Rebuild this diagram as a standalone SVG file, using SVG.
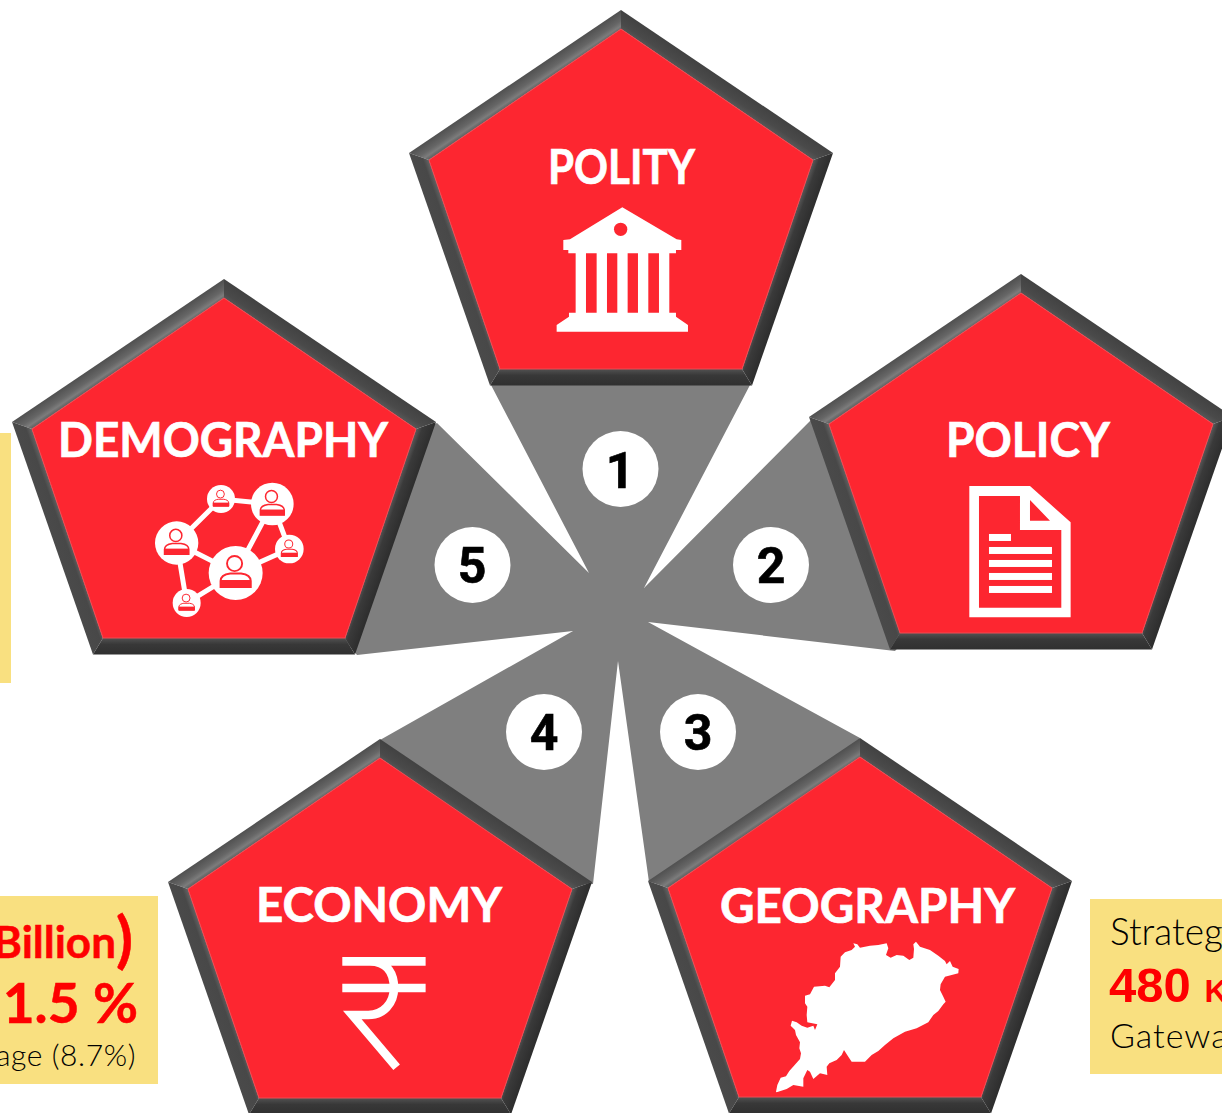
<svg xmlns="http://www.w3.org/2000/svg" xmlns:xlink="http://www.w3.org/1999/xlink" width="1222" height="1113" viewBox="0 0 1222 1113">
<style>
.lbl{font-family:"Lato","Liberation Sans",sans-serif;font-weight:700;font-size:48px;fill:#fff;stroke:#fff;stroke-width:.7px}
.num{font-family:"Roboto","Liberation Sans",sans-serif;font-weight:700;font-size:50px;fill:#000;text-anchor:middle;stroke:#000;stroke-width:.6px}
.disc{fill:#fff}
.box{fill:#f9e080}
.red{font-family:"Lato","Liberation Sans",sans-serif;font-weight:700;fill:#fe0000;stroke:#fe0000;stroke-width:.5px}
.blk{font-family:"Lato","Liberation Sans",sans-serif;font-weight:300;fill:#000}
.w{fill:#fff}
.line{stroke:#fff;stroke-width:15;fill:none}
</style>
<defs>
<linearGradient id="gTL" gradientUnits="userSpaceOnUse" x1="-106" y1="71.5" x2="-97.2" y2="84.6"><stop offset="0" stop-color="#505050"/><stop offset=".55" stop-color="#666"/><stop offset=".82" stop-color="#7c7c7c"/><stop offset="1" stop-color="#666"/></linearGradient>
<linearGradient id="gTR" gradientUnits="userSpaceOnUse" x1="106" y1="71.5" x2="97.2" y2="84.6"><stop offset="0" stop-color="#424242"/><stop offset=".7" stop-color="#4a4a4a"/><stop offset="1" stop-color="#555"/></linearGradient>
<linearGradient id="gR" gradientUnits="userSpaceOnUse" x1="171" y1="259" x2="155.4" y2="253.5"><stop offset="0" stop-color="#2e2e2e"/><stop offset=".65" stop-color="#3a3a3a"/><stop offset="1" stop-color="#5c5c5c"/></linearGradient>
<linearGradient id="gL" gradientUnits="userSpaceOnUse" x1="-171" y1="259" x2="-155.4" y2="253.5"><stop offset="0" stop-color="#4a4a4a"/><stop offset=".65" stop-color="#484848"/><stop offset="1" stop-color="#666"/></linearGradient>
<linearGradient id="gB" gradientUnits="userSpaceOnUse" x1="0" y1="375" x2="0" y2="359"><stop offset="0" stop-color="#303030"/><stop offset=".6" stop-color="#383838"/><stop offset="1" stop-color="#525252"/></linearGradient>
<g id="pent">
<polygon fill="url(#gTL)" points="-212,143 0,0 0,19 -192,150"/>
<polygon fill="url(#gTR)" points="212,143 0,0 0,19 192,150"/>
<polygon fill="url(#gR)" points="212,143 131,375.500 121,359 192,150"/>
<polygon fill="url(#gL)" points="-212,143 -131,375.500 -121,359 -192,150"/>
<polygon fill="url(#gB)" points="-131,375.500 131,375.500 121,359 -121,359"/>
<polygon fill="#fd2630" stroke="#ee4a52" stroke-width="1" points="0,19 192,150 121,359 -121,359 -192,150"/>
</g>
<g id="person">
<circle cx="-4" cy="-35" r="28" fill="#fff" stroke="#fd2630" stroke-width="7"/>
<path fill="#fff" stroke="#fd2630" stroke-width="7" d="M-56,30 C-56,10 -35,4 -20,2 H20 C35,4 56,10 56,30 V52 H-56Z"/>
<rect x="-57" y="26" width="114" height="27" fill="#fd2630"/>
</g>
</defs>

<g id="connectors">
<polygon fill="#7f7f7f" points="491,385 500,370 740,370 750,385 644,588 811,420 830,430 905,640 895,651 648,622 860,738 840,775 670,885 649,882 618,661 593,884 570,885 400,775 380,740 573,631 357,655 345,640 420,430 437,423 589,573"/>
</g>

<g id="box-left"><rect class="box" x="0" y="433" width="11" height="250"/></g>
<g id="box-economy">
<rect class="box" x="0" y="896" width="158" height="188"/>
<text class="red" x="133" y="958" font-size="44" text-anchor="end">Billion<tspan font-size="62" dy="3">)</tspan></text>
<text class="red" x="138" y="1023" font-size="55" text-anchor="end">1.5 %</text>
<text class="blk" x="136" y="1066" font-size="30" text-anchor="end" letter-spacing=".6">age (8.7%)</text>
</g>
<g id="box-geography">
<rect class="box" x="1090" y="899" width="132" height="175"/>
<text class="blk" x="1110" y="945" font-size="37">Strateg</text>
<text x="1109" y="1002" font-size="49" font-weight="700" font-family="Liberation Sans,sans-serif" fill="#fe0000">480 <tspan font-size="32">K</tspan></text>
<text class="blk" x="1110" y="1048" font-size="34" letter-spacing="1">Gatewa</text>
</g>

<g id="node-polity">
<use xlink:href="#pent" href="#pent" x="621" y="10"/>
<text class="lbl" x="548" y="184" textLength="147" lengthAdjust="spacingAndGlyphs">POLITY</text>
<g transform="translate(400 0) scale(.3333)">
<path class="w" fill-rule="evenodd" d="M667,622 L830,718 L844,720 V750 H828 V760 H808 V938 H828 V950 L864,975 V995 H470 V975 L507,950 V938 H527 V760 H505 V750 H490 V720 L510,718Z M558,760 V938 H590 V760Z M621,760 V938 H652 V760Z M683,760 V938 H714 V760Z M745,760 V938 H777 V760Z"/>
<circle cx="662" cy="688" r="20" fill="#fd2630"/>
</g>
</g>

<g id="node-policy">
<use xlink:href="#pent" href="#pent" x="1021" y="274"/>
<text class="lbl" x="946" y="457" textLength="164" lengthAdjust="spacingAndGlyphs">POLICY</text>
<g transform="translate(800 270) scale(.3333)">
<path class="w" fill-rule="evenodd" d="M508,648 H690 L812,757 V1042 H508Z M537,678 V1013 H784 V780 H660 V678Z M690,690 V752 H750Z"/>
<rect class="w" x="567" y="792" width="66" height="21"/>
<rect class="w" x="567" y="831" width="189" height="21"/>
<rect class="w" x="567" y="870" width="189" height="21"/>
<rect class="w" x="567" y="909" width="189" height="21"/>
<rect class="w" x="567" y="948" width="189" height="21"/>
</g>
</g>

<g id="node-geography">
<use xlink:href="#pent" href="#pent" x="860" y="738"/>
<text class="lbl" x="720" y="923" textLength="295" lengthAdjust="spacingAndGlyphs">GEOGRAPHY</text>
<path class="w" transform="translate(770 935) scale(.3333)" d="M18,470 L22,450 L32,428 L48,424 L58,408 L72,392 L90,372 L93,355 L88,340 L90,322 L78,300 L75,285 L62,272 L66,257 L80,262 L95,272 L112,278 L130,272 L135,285 L142,268 L112,262 L110,240 L112,215 L105,205 L105,182 L120,178 L132,155 L165,152 L178,157 L195,135 L195,115 L210,95 L212,65 L225,52 L245,45 L255,35 L250,25 L262,28 L270,38 L300,32 L325,30 L350,25 L355,40 L348,60 L362,68 L380,60 L400,62 L418,75 L430,68 L432,42 L430,28 L438,20 L450,35 L480,45 L505,62 L525,78 L530,88 L540,78 L548,95 L566,102 L565,115 L545,120 L525,125 L512,148 L510,165 L520,185 L527,200 L520,208 L505,228 L490,240 L475,262 L440,280 L405,290 L370,310 L345,330 L325,348 L305,360 L285,380 L245,380 L235,365 L222,345 L215,360 L200,375 L178,385 L170,395 L172,420 L150,415 L130,432 L120,410 L112,405 L100,430 L100,455 L70,450 L50,462 L20,472Z"/>
</g>

<g id="node-economy">
<use xlink:href="#pent" href="#pent" x="380" y="739"/>
<text class="lbl" x="256" y="922" textLength="246" lengthAdjust="spacingAndGlyphs">ECONOMY</text>
<path transform="translate(0 860) scale(.3333)" fill="none" stroke="#fff" stroke-width="26" d="M1027,304 H1277 M1027,384 H1277 M1110,304 C1165,304 1182,345 1182,384 C1182,430 1150,465 1105,465 H1057 L1190,622"/>
</g>

<g id="node-demography">
<use xlink:href="#pent" href="#pent" x="224" y="279"/>
<text class="lbl" x="58" y="457" textLength="330" lengthAdjust="spacingAndGlyphs">DEMOGRAPHY</text>
<g transform="translate(150 478) scale(.3333)">
<path class="line" d="M80,195 L213,63 L367,78 L257,285 L80,195 L110,375 L257,285 L418,213 L367,78"/>
<circle class="w" cx="213" cy="63" r="42"/><use xlink:href="#person" href="#person" transform="translate(213 63) scale(.42)"/>
<circle class="w" cx="367" cy="78" r="64"/><use xlink:href="#person" href="#person" transform="translate(367 78) scale(.64)"/>
<circle class="w" cx="80" cy="195" r="65"/><use xlink:href="#person" href="#person" transform="translate(80 195) scale(.65)"/>
<circle class="w" cx="257" cy="285" r="81"/><use xlink:href="#person" href="#person" transform="translate(257 285) scale(.81)"/>
<circle class="w" cx="418" cy="213" r="43"/><use xlink:href="#person" href="#person" transform="translate(418 213) scale(.43)"/>
<circle class="w" cx="110" cy="375" r="42"/><use xlink:href="#person" href="#person" transform="translate(110 375) scale(.42)"/>
</g>
</g>

<g id="badge-1"><circle class="disc" cx="620.500" cy="469" r="38"/><text class="num" x="620" y="488">1</text></g>
<g id="badge-2"><circle class="disc" cx="771" cy="565" r="38"/><text class="num" x="771" y="583">2</text></g>
<g id="badge-3"><circle class="disc" cx="698" cy="732" r="38"/><text class="num" x="698" y="750">3</text></g>
<g id="badge-4"><circle class="disc" cx="544" cy="732" r="38"/><text class="num" x="544" y="750">4</text></g>
<g id="badge-5"><circle class="disc" cx="472.500" cy="565" r="38"/><text class="num" x="472" y="583">5</text></g>
</svg>
